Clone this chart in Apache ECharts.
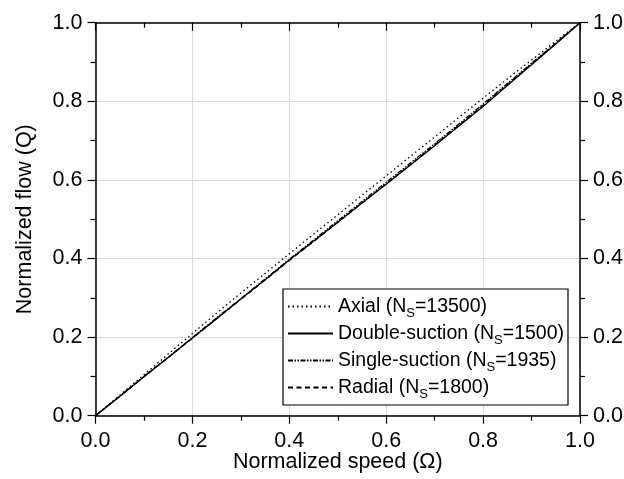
<!DOCTYPE html>
<html>
<head>
<meta charset="utf-8">
<script src="https://cdn.jsdelivr.net/npm/echarts@6/dist/echarts.min.js"></script>
<style>html,body{margin:0;padding:0;background:#fff}#c{width:624px;height:479px}</style>
</head>
<body>
<div id="c"></div>
<script>
var speed = [0, 0.05, 0.1, 0.15, 0.2, 0.25, 0.3, 0.35, 0.4, 0.45, 0.5, 0.55, 0.6, 0.65, 0.7, 0.75, 0.8, 0.85, 0.9, 0.95, 1.0];
var axialFlow = [0, 0.052, 0.104, 0.157, 0.209, 0.261, 0.312, 0.362, 0.412, 0.462, 0.511, 0.561, 0.610, 0.660, 0.709, 0.759, 0.808, 0.857, 0.905, 0.953, 1.0];
var doubleFlow = [0, 0.049, 0.099, 0.148, 0.198, 0.247, 0.297, 0.346, 0.396, 0.444, 0.492, 0.541, 0.589, 0.638, 0.687, 0.737, 0.787, 0.840, 0.893, 0.946, 1.0];
var singleFlow = [0, 0.050, 0.100, 0.149, 0.199, 0.249, 0.298, 0.348, 0.398, 0.447, 0.496, 0.545, 0.594, 0.643, 0.692, 0.742, 0.793, 0.845, 0.897, 0.948, 1.0];
var radialFlow = [0, 0.049, 0.099, 0.148, 0.197, 0.247, 0.296, 0.345, 0.395, 0.443, 0.492, 0.541, 0.590, 0.639, 0.689, 0.739, 0.790, 0.843, 0.895, 0.947, 1.0];
var seriesNames = ['Axial', 'Double-suction', 'Single-suction', 'Radial'];
var nsValues = ['13500', '1500', '1935', '1800'];
var tickLabels = ['0.0', '0.2', '0.4', '0.6', '0.8', '1.0'];

function pairs(ys) { return speed.map(function (x, i) { return [x, ys[i]]; }); }
var FONT = '"Liberation Sans", Arial, sans-serif';
function fmt(v) { return tickLabels[Math.round(v / 0.2)]; }

var axisCommon = {
  min: 0, max: 1, interval: 0.2,
  axisLine: { show: true, onZero: false, lineStyle: { color: '#000', width: 1.5 } },
  axisTick: { show: true, length: 8, lineStyle: { color: '#000', width: 1.2 } },
  minorTick: { show: true, splitNumber: 2, length: 5, lineStyle: { color: '#000', width: 1.2 } },
  axisLabel: { color: '#000', fontSize: 21.5, fontFamily: FONT, margin: 13 },
  splitLine: { show: false }
};

function ax(extra) {
  var o = JSON.parse(JSON.stringify(axisCommon));
  o.axisLabel.formatter = fmt;
  return Object.assign(o, extra);
}

var chart = echarts.init(document.getElementById('c'));
var styles = [
  { type: [1.5, 3], width: 1.3 },
  { type: 'solid', width: 1.3 },
  { type: [5, 1.5, 1.5, 1.5, 1.5, 1.5], width: 1.3 },
  { type: [5, 3.5], width: 1.3 }
];
var datas = [axialFlow, doubleFlow, singleFlow, radialFlow];

chart.setOption({
  animation: false,
  backgroundColor: '#fff',
  grid: { left: 95.5, right: 44, top: 22.7, bottom: 63.3, containLabel: false, outerBoundsMode: 'none' },
  xAxis: [
    ax({ type: 'value', position: 'bottom',
      name: 'Normalized speed (\u03A9)', nameLocation: 'middle', nameGap: 35, nameMoveOverlap: false,
      nameTextStyle: { color: '#000', fontSize: 21.5, fontFamily: FONT },
      axisLabel: { color: '#000', fontSize: 21.5, fontFamily: FONT, margin: 14, formatter: fmt },
      splitLine: { show: true, lineStyle: { color: '#d9d9d9', width: 1 } } }),
    ax({ type: 'value', position: 'top', axisLabel: { show: false },
      axisTick: { show: true, inside: true, length: 8, lineStyle: { color: '#000', width: 1.2 } },
      minorTick: { show: true, splitNumber: 2, length: 5, lineStyle: { color: '#000', width: 1.2 } } })
  ],
  yAxis: [
    ax({ type: 'value', position: 'left',
      name: 'Normalized flow (Q)', nameLocation: 'middle', nameGap: 59, nameMoveOverlap: false,
      nameTextStyle: { color: '#000', fontSize: 21.5, fontFamily: FONT },
      splitLine: { show: true, lineStyle: { color: '#d9d9d9', width: 1 } } }),
    ax({ type: 'value', position: 'right' })
  ],
  legend: {
    left: 283, top: 289,
    orient: 'vertical',
    data: seriesNames,
    itemWidth: 45, itemHeight: 14, itemGap: 3,
    padding: [7, 4, 4, 4],
    borderColor: '#000', borderWidth: 1.2, borderRadius: 0,
    backgroundColor: '#fff',
    itemStyle: { color: 'rgba(0,0,0,0)', borderWidth: 0, opacity: 0 },
    formatter: function (name) {
      var i = seriesNames.indexOf(name);
      return name + ' (N{s|S}=' + nsValues[i] + ')';
    },
    textStyle: {
      color: '#000', fontSize: 19.5, fontFamily: FONT, lineHeight: 21,
      rich: { s: { fontSize: 13, fontFamily: FONT, color: '#000', padding: [14, 0, 0, 0] } }
    }
  },
  series: seriesNames.map(function (n, i) {
    return {
      name: n, type: 'line', symbol: 'none', xAxisIndex: 0, yAxisIndex: 0,
      data: pairs(datas[i]),
      lineStyle: { color: '#000', width: styles[i].width, type: styles[i].type },
      itemStyle: { color: '#000' },
      z: 4 - i
    };
  })
});
</script>
</body>
</html>
